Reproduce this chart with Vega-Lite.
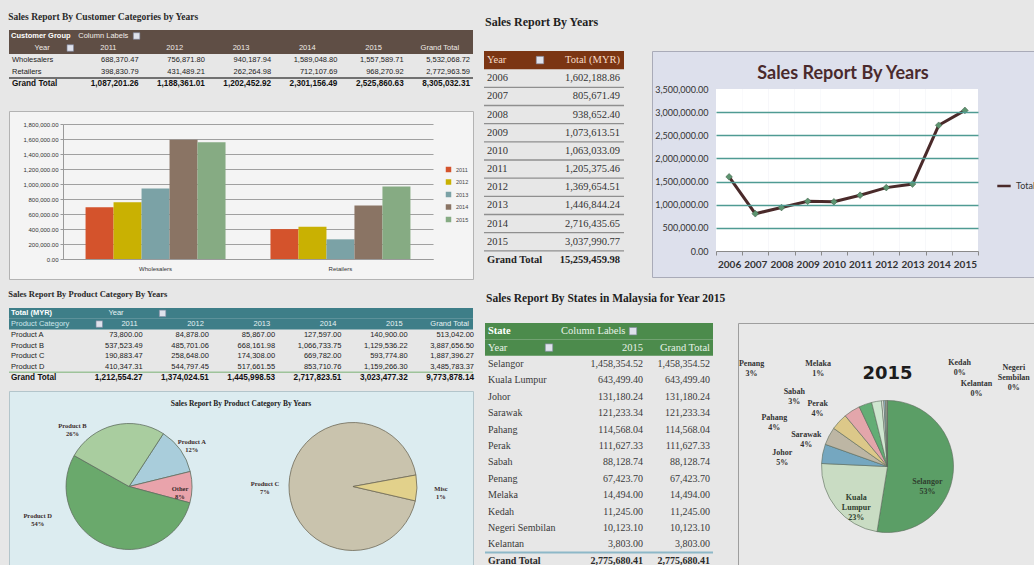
{
"$schema":"https://vega.github.io/schema/vega-lite/v6.json",
"background":"#e7e7e7",
"padding":{"left":8,"top":10,"right":0,"bottom":0},
"spacing":4,
"resolve":{"scale":{"color":"independent","theta":"independent"},"legend":{"color":"independent"}},
"datasets":{
"cust":[
{"row":"Wholesalers","col":"2011","v":688370.47},{"row":"Wholesalers","col":"2012","v":756871.80},{"row":"Wholesalers","col":"2013","v":940187.94},{"row":"Wholesalers","col":"2014","v":1589048.80},{"row":"Wholesalers","col":"2015","v":1557589.71},{"row":"Wholesalers","col":"Grand Total","v":5532068.72},
{"row":"Retailers","col":"2011","v":398830.79},{"row":"Retailers","col":"2012","v":431489.21},{"row":"Retailers","col":"2013","v":262264.98},{"row":"Retailers","col":"2014","v":712107.69},{"row":"Retailers","col":"2015","v":968270.92},{"row":"Retailers","col":"Grand Total","v":2772963.59},
{"row":"Grand Total","col":"2011","v":1087201.26},{"row":"Grand Total","col":"2012","v":1188361.01},{"row":"Grand Total","col":"2013","v":1202452.92},{"row":"Grand Total","col":"2014","v":2301156.49},{"row":"Grand Total","col":"2015","v":2525860.63},{"row":"Grand Total","col":"Grand Total","v":8305032.31}
],
"prod":[
{"row":"Product A","col":"2011","v":73800.00},{"row":"Product A","col":"2012","v":84878.00},{"row":"Product A","col":"2013","v":85867.00},{"row":"Product A","col":"2014","v":127597.00},{"row":"Product A","col":"2015","v":140900.00},{"row":"Product A","col":"Grand Total","v":513042.00},
{"row":"Product B","col":"2011","v":537523.49},{"row":"Product B","col":"2012","v":485701.06},{"row":"Product B","col":"2013","v":668161.98},{"row":"Product B","col":"2014","v":1066733.75},{"row":"Product B","col":"2015","v":1129536.22},{"row":"Product B","col":"Grand Total","v":3887656.50},
{"row":"Product C","col":"2011","v":190883.47},{"row":"Product C","col":"2012","v":258648.00},{"row":"Product C","col":"2013","v":174308.00},{"row":"Product C","col":"2014","v":669782.00},{"row":"Product C","col":"2015","v":593774.80},{"row":"Product C","col":"Grand Total","v":1887396.27},
{"row":"Product D","col":"2011","v":410347.31},{"row":"Product D","col":"2012","v":544797.45},{"row":"Product D","col":"2013","v":517661.55},{"row":"Product D","col":"2014","v":853710.76},{"row":"Product D","col":"2015","v":1159266.30},{"row":"Product D","col":"Grand Total","v":3485783.37},
{"row":"Grand Total","col":"2011","v":1212554.27},{"row":"Grand Total","col":"2012","v":1374024.51},{"row":"Grand Total","col":"2013","v":1445998.53},{"row":"Grand Total","col":"2014","v":2717823.51},{"row":"Grand Total","col":"2015","v":3023477.32},{"row":"Grand Total","col":"Grand Total","v":9773878.14}
],
"years":[
{"year":"2006","total":1602188.86},{"year":"2007","total":805671.49},{"year":"2008","total":938652.40},{"year":"2009","total":1073613.51},{"year":"2010","total":1063033.09},{"year":"2011","total":1205375.46},{"year":"2012","total":1369654.51},{"year":"2013","total":1446844.24},{"year":"2014","total":2716435.65},{"year":"2015","total":3037990.77}
],
"states":[
{"state":"Selangor","v":1458354.52,"lbl":"Selangor\n53%"},
{"state":"Kuala Lumpur","v":643499.40,"lbl":"Kuala\nLumpur\n23%"},
{"state":"Johor","v":131180.24,"lbl":"Johor\n5%"},
{"state":"Sarawak","v":121233.34,"lbl":"Sarawak\n4%"},
{"state":"Pahang","v":114568.04,"lbl":"Pahang\n4%"},
{"state":"Perak","v":111627.33,"lbl":"Perak\n4%"},
{"state":"Sabah","v":88128.74,"lbl":"Sabah\n3%"},
{"state":"Penang","v":67423.70,"lbl":"Penang\n3%"},
{"state":"Melaka","v":14494.00,"lbl":"Melaka\n1%"},
{"state":"Kedah","v":11245.00,"lbl":"Kedah\n0%"},
{"state":"Negeri Sembilan","v":10123.10,"lbl":"Negeri\nSembilan\n0%"},
{"state":"Kelantan","v":3803.00,"lbl":"Kelantan\n0%"}
]
},
"vconcat":[
{"hconcat":[
 {"vconcat":[
  {"title":{"text":"Sales Report By Customer Categories by Years","anchor":"start","fontSize":9.5,"fontWeight":"bold","font":"Liberation Serif","color":"#2a2a2a","offset":-11},
   "width":464,"height":80,
   "encoding":{"y":{"field":"row","type":"nominal","scale":{"type":"band","domain":["head1","head2","Wholesalers","Retailers","Grand Total"],"range":[20,80],"paddingInner":0,"paddingOuter":0},"axis":null}},
   "layer":[
    {"data":{"values":[{"row":"head1"},{"row":"head2"}]},"mark":{"type":"rect","color":"#5f4e45"}},
    {"data":{"values":[{"row":"head1","col":"label","t":"Customer Group"}]},"mark":{"type":"text","align":"left","fontSize":7.5,"fontWeight":"bold","color":"#ffffff","xOffset":2,"limit":60,"ellipsis":""},
     "encoding":{"x":{"field":"col","type":"nominal","bandPosition":0,"scale":{"type":"band","domain":["label","2011","2012","2013","2014","2015","Grand Total"],"paddingInner":0,"paddingOuter":0},"axis":null},"text":{"field":"t"}}},
    {"data":{"values":[{"row":"head1","col":"2011","t":"Column Labels"}]},"mark":{"type":"text","align":"left","fontSize":7.5,"color":"#f0ece8","xOffset":3},
     "encoding":{"x":{"field":"col","type":"nominal","bandPosition":0,"scale":{"type":"band","domain":["label","2011","2012","2013","2014","2015","Grand Total"],"paddingInner":0,"paddingOuter":0},"axis":null},"text":{"field":"t"}}},
    {"data":{"values":[{"row":"head2","col":"label","t":"Year"},{"row":"head2","col":"2011","t":"2011"},{"row":"head2","col":"2012","t":"2012"},{"row":"head2","col":"2013","t":"2013"},{"row":"head2","col":"2014","t":"2014"},{"row":"head2","col":"2015","t":"2015"},{"row":"head2","col":"Grand Total","t":"Grand Total"}]},
     "mark":{"type":"text","fontSize":7.5,"color":"#f0ece8"},
     "encoding":{"x":{"field":"col","type":"nominal","bandPosition":0.5,"scale":{"type":"band","domain":["label","2011","2012","2013","2014","2015","Grand Total"],"paddingInner":0,"paddingOuter":0},"axis":null},"text":{"field":"t"}}},
    {"data":{"values":[{"row":"head1","col":"2011"},{"row":"head2","col":"label"}]},"mark":{"type":"square","size":42,"filled":true,"fill":"#dfe2ec","stroke":"#7f86a0","strokeWidth":0.6,"opacity":1,"xOffset":-5},
     "encoding":{"x":{"field":"col","type":"nominal","bandPosition":1,"scale":{"type":"band","domain":["label","2011","2012","2013","2014","2015","Grand Total"],"paddingInner":0,"paddingOuter":0},"axis":null}}},
    {"data":{"name":"cust"},"transform":[{"filter":"datum.row !== 'Grand Total'"}],"mark":{"type":"text","align":"right","fontSize":7.5,"color":"#222222","xOffset":-3},
     "encoding":{"x":{"field":"col","type":"nominal","bandPosition":1,"scale":{"type":"band","domain":["label","2011","2012","2013","2014","2015","Grand Total"],"paddingInner":0,"paddingOuter":0},"axis":null},"text":{"field":"v","type":"quantitative","format":",.2f"}}},
    {"data":{"name":"cust"},"transform":[{"filter":"datum.row === 'Grand Total'"}],"mark":{"type":"text","align":"right","fontSize":8.2,"fontWeight":"bold","color":"#111111","xOffset":-3},
     "encoding":{"x":{"field":"col","type":"nominal","bandPosition":1,"scale":{"type":"band","domain":["label","2011","2012","2013","2014","2015","Grand Total"],"paddingInner":0,"paddingOuter":0},"axis":null},"text":{"field":"v","type":"quantitative","format":",.2f"}}},
    {"data":{"values":[{"row":"Wholesalers"},{"row":"Retailers"}]},"mark":{"type":"text","align":"left","fontSize":7.5,"color":"#222222","xOffset":3},
     "encoding":{"x":{"datum":"label","type":"nominal","bandPosition":0,"scale":{"type":"band","domain":["label","2011","2012","2013","2014","2015","Grand Total"],"paddingInner":0,"paddingOuter":0},"axis":null},"text":{"field":"row"}}},
    {"data":{"values":[{"row":"Grand Total"}]},"mark":{"type":"text","align":"left","fontSize":8.2,"fontWeight":"bold","color":"#111111","xOffset":3},
     "encoding":{"x":{"datum":"label","type":"nominal","bandPosition":0,"scale":{"type":"band","domain":["label","2011","2012","2013","2014","2015","Grand Total"],"paddingInner":0,"paddingOuter":0},"axis":null},"text":{"field":"row"}}},
    {"data":{"values":[{"row":"Grand Total"}]},"mark":{"type":"rule","color":"#4a4a4a","strokeWidth":1.6},
     "encoding":{"y":{"field":"row","type":"nominal","bandPosition":0,"scale":{"type":"band","domain":["head1","head2","Wholesalers","Retailers","Grand Total"],"range":[20,80],"paddingInner":0,"paddingOuter":0},"axis":null}}}
   ]},
  {"width":464,"height":168,
   "view":{"fill":"#f4f4f4","stroke":"#b3b3b3"},
   "data":{"name":"cust"},
   "transform":[{"filter":"datum.row !== 'Grand Total' && datum.col !== 'Grand Total'"}],
   "mark":{"type":"bar"},
   "encoding":{
    "x":{"field":"row","type":"nominal","sort":["Wholesalers","Retailers"],"scale":{"type":"band","range":[54,424],"paddingInner":0.243,"paddingOuter":0.122},
         "axis":{"title":null,"labelAngle":0,"orient":"bottom","offset":-20,"ticks":false,"domainColor":"#9a9a9a","labelFontSize":6,"labelColor":"#333333","labelPadding":6}},
    "xOffset":{"field":"col","type":"nominal","scale":{"paddingInner":0,"paddingOuter":0}},
    "y":{"field":"v","type":"quantitative","scale":{"domain":[0,1800000],"range":[148,13],"nice":false,"zero":true},
         "axis":{"title":null,"orient":"left","offset":-54,"values":[0,200000,400000,600000,800000,1000000,1200000,1400000,1600000,1800000],"format":",.2f","labelFontSize":6,"labelColor":"#333333","gridColor":"#a0a0a0","domainColor":"#9a9a9a","tickSize":3,"tickColor":"#9a9a9a","labelPadding":2}},
    "color":{"field":"col","type":"nominal","scale":{"domain":["2011","2012","2013","2014","2015"],"range":["#d4532c","#c9b102","#7ba2a6","#8a7464","#86ab83"]},
         "legend":{"orient":"none","legendX":436,"legendY":55,"title":null,"symbolType":"square","symbolSize":30,"labelFontSize":5.5,"labelColor":"#444444","rowPadding":5.5}}
   }}
 ],"spacing":20,"resolve":{"scale":{"color":"independent","theta":"independent"},"legend":{"color":"independent"}}},
 {"vconcat":[
  {"width":2,"height":24,"data":{"values":[{"t":"Sales Report By Years"}]},
   "mark":{"type":"text","align":"left","font":"Liberation Serif","fontSize":12,"fontWeight":"bold","color":"#1f1f1f"},
   "encoding":{"text":{"field":"t"}}},
  {"hconcat":[
   {"width":140,"height":218,
    "encoding":{"y":{"field":"year","type":"nominal","scale":{"type":"band","domain":["head","2006","2007","2008","2009","2010","2011","2012","2013","2014","2015","Grand Total"],"paddingInner":0,"paddingOuter":0},"axis":null}},
    "layer":[
     {"data":{"values":[{"year":"head"}]},"mark":{"type":"rect","color":"#7b3513"}},
     {"data":{"values":[{"year":"head","col":"Year","t":"Year"}]},"mark":{"type":"text","align":"left","font":"Liberation Serif","fontSize":10.5,"color":"#f7dcc8","xOffset":3},
      "encoding":{"x":{"field":"col","type":"nominal","bandPosition":0,"scale":{"type":"band","domain":["Year","Total (MYR)"],"paddingInner":0,"paddingOuter":0},"axis":null},"text":{"field":"t"}}},
     {"data":{"values":[{"year":"head","col":"Total (MYR)","t":"Total (MYR)"}]},"mark":{"type":"text","align":"right","font":"Liberation Serif","fontSize":10.5,"color":"#f7dcc8","xOffset":-4},
      "encoding":{"x":{"field":"col","type":"nominal","bandPosition":1,"scale":{"type":"band","domain":["Year","Total (MYR)"],"paddingInner":0,"paddingOuter":0},"axis":null},"text":{"field":"t"}}},
     {"data":{"values":[{"year":"head","col":"Year"}]},"mark":{"type":"square","size":55,"filled":true,"fill":"#dfe2ec","stroke":"#7f86a0","strokeWidth":0.6,"opacity":1,"xOffset":-14},
      "encoding":{"x":{"field":"col","type":"nominal","bandPosition":1,"scale":{"type":"band","domain":["Year","Total (MYR)"],"paddingInner":0,"paddingOuter":0},"axis":null}}},
     {"data":{"name":"years"},"mark":{"type":"rule","color":"#8f8f8f","strokeWidth":1.3},
      "encoding":{"y":{"field":"year","type":"nominal","bandPosition":1,"scale":{"type":"band","domain":["head","2006","2007","2008","2009","2010","2011","2012","2013","2014","2015","Grand Total"],"paddingInner":0,"paddingOuter":0},"axis":null}}},
     {"data":{"name":"years"},"mark":{"type":"text","align":"left","font":"Liberation Serif","fontSize":10.5,"color":"#333333","xOffset":3},
      "encoding":{"x":{"datum":"Year","type":"nominal","bandPosition":0,"scale":{"type":"band","domain":["Year","Total (MYR)"],"paddingInner":0,"paddingOuter":0},"axis":null},"text":{"field":"year"}}},
     {"data":{"name":"years"},"mark":{"type":"text","align":"right","font":"Liberation Serif","fontSize":10.5,"color":"#333333","xOffset":-4},
      "encoding":{"x":{"datum":"Total (MYR)","type":"nominal","bandPosition":1,"scale":{"type":"band","domain":["Year","Total (MYR)"],"paddingInner":0,"paddingOuter":0},"axis":null},"text":{"field":"total","type":"quantitative","format":",.2f"}}},
     {"data":{"values":[{"year":"Grand Total","total":15259459.98}]},"mark":{"type":"text","align":"left","font":"Liberation Serif","fontSize":10.5,"fontWeight":"bold","color":"#222222","xOffset":3},
      "encoding":{"x":{"datum":"Year","type":"nominal","bandPosition":0,"scale":{"type":"band","domain":["Year","Total (MYR)"],"paddingInner":0,"paddingOuter":0},"axis":null},"text":{"field":"year"}}},
     {"data":{"values":[{"year":"Grand Total","total":15259459.98}]},"mark":{"type":"text","align":"right","font":"Liberation Serif","fontSize":10.5,"fontWeight":"bold","color":"#222222","xOffset":-4},
      "encoding":{"x":{"datum":"Total (MYR)","type":"nominal","bandPosition":1,"scale":{"type":"band","domain":["Year","Total (MYR)"],"paddingInner":0,"paddingOuter":0},"axis":null},"text":{"field":"total","type":"quantitative","format":",.2f"}}}
    ]},
   {"width":382,"height":226,
    "view":{"fill":"#dde0ec","stroke":"#a9abb8"},
    "title":{"text":"Sales Report By Years","offset":-32,"fontSize":18,"font":"Lato","fontWeight":"bold","color":"#4a2a2c"},
    "data":{"name":"years"},
    "encoding":{"x":{"field":"year","type":"ordinal","scale":{"type":"band","range":[64,326],"paddingInner":0,"paddingOuter":0},
      "axis":{"title":null,"labelAngle":0,"offset":-26,"tickBand":"extent","labelFont":"Lato","labelFontSize":10,"labelFontWeight":"bold","labelColor":"#333333","domainColor":"#8a8a8a","tickColor":"#8a8a8a","tickSize":4,"labelPadding":4}}},
    "layer":[
     {"mark":{"type":"rect","color":"#ffffff"},
      "encoding":{"y":{"datum":0,"type":"quantitative","scale":{"domain":[0,3500000],"range":[200,38],"nice":false},
        "axis":{"title":null,"orient":"left","offset":-64,"zindex":1,"values":[0,500000,1000000,1500000,2000000,2500000,3000000,3500000],"format":",.2f","labelFont":"Lato","labelFontSize":9,"labelColor":"#333333","labelPadding":8,"domain":false,"ticks":false,"grid":true,"gridWidth":1.5,"gridColor":{"condition":{"test":"datum.value === 0 || datum.value === 3500000","value":"transparent"},"value":"#4f9b93"}}},
       "y2":{"datum":3500000}}},
     {"mark":{"type":"line","strokeWidth":3},
      "encoding":{"y":{"field":"total","type":"quantitative","scale":{"domain":[0,3500000],"range":[200,38],"nice":false},
        "axis":{"title":null,"orient":"left","offset":-64,"zindex":1,"values":[0,500000,1000000,1500000,2000000,2500000,3000000,3500000],"format":",.2f","labelFont":"Lato","labelFontSize":9,"labelColor":"#333333","labelPadding":8,"domain":false,"ticks":false,"grid":true,"gridWidth":1.5,"gridColor":{"condition":{"test":"datum.value === 0 || datum.value === 3500000","value":"transparent"},"value":"#4f9b93"}}},
       "color":{"datum":"Total","scale":{"domain":["Total"],"range":["#4a2a2a"]},"legend":{"orient":"none","legendX":344,"legendY":127,"title":null,"symbolType":"stroke","symbolStrokeWidth":2.5,"symbolSize":180,"labelFont":"Lato","labelFontSize":9,"labelColor":"#333333"}}}},
     {"mark":{"type":"point","shape":"diamond","filled":true,"size":45,"fill":"#5d9470","stroke":"#3d5a45","strokeWidth":0.5,"opacity":1},
      "encoding":{"y":{"field":"total","type":"quantitative","scale":{"domain":[0,3500000],"range":[200,38],"nice":false},
        "axis":{"title":null,"orient":"left","offset":-64,"zindex":1,"values":[0,500000,1000000,1500000,2000000,2500000,3000000,3500000],"format":",.2f","labelFont":"Lato","labelFontSize":9,"labelColor":"#333333","labelPadding":8,"domain":false,"ticks":false,"grid":true,"gridWidth":1.5,"gridColor":{"condition":{"test":"datum.value === 0 || datum.value === 3500000","value":"transparent"},"value":"#4f9b93"}}}}}
    ]}
  ],"spacing":26,"resolve":{"scale":{"color":"independent","theta":"independent"},"legend":{"color":"independent"}}}
 ],"spacing":16,"resolve":{"scale":{"color":"independent","theta":"independent"},"legend":{"color":"independent"}}}
],"spacing":9,"resolve":{"scale":{"color":"independent","theta":"independent"},"legend":{"color":"independent"}}},
{"hconcat":[
 {"vconcat":[
  {"title":{"text":"Sales Report By Product Category By Years","anchor":"start","fontSize":8.5,"fontWeight":"bold","font":"Liberation Serif","color":"#2a2a2a","offset":-14},
   "width":464,"height":99,
   "encoding":{"y":{"field":"row","type":"nominal","scale":{"type":"band","domain":["head1","head2","Product A","Product B","Product C","Product D","Grand Total"],"range":[24,99],"paddingInner":0,"paddingOuter":0},"axis":null}},
   "layer":[
    {"data":{"values":[{"row":"head1"},{"row":"head2"}]},"mark":{"type":"rect","color":"#3e7e88"}},
    {"data":{"values":[{"row":"head1","col":"label","t":"Total (MYR)"}]},"mark":{"type":"text","align":"left","fontSize":7.5,"fontWeight":"bold","color":"#ffffff","xOffset":2},
     "encoding":{"x":{"field":"col","type":"nominal","bandPosition":0,"scale":{"type":"band","domain":["label","2011","2012","2013","2014","2015","Grand Total"],"paddingInner":0,"paddingOuter":0},"axis":null},"text":{"field":"t"}}},
    {"data":{"values":[{"row":"head1","col":"2011","t":"Year"}]},"mark":{"type":"text","align":"left","fontSize":7.5,"color":"#e6f2f3"},
     "encoding":{"x":{"field":"col","type":"nominal","bandPosition":0.5,"scale":{"type":"band","domain":["label","2011","2012","2013","2014","2015","Grand Total"],"paddingInner":0,"paddingOuter":0},"axis":null},"text":{"field":"t"}}},
    {"data":{"values":[{"row":"head2","col":"label","t":"Product Category"}]},"mark":{"type":"text","align":"left","fontSize":7.5,"color":"#cde6ea","xOffset":2},
     "encoding":{"x":{"field":"col","type":"nominal","bandPosition":0,"scale":{"type":"band","domain":["label","2011","2012","2013","2014","2015","Grand Total"],"paddingInner":0,"paddingOuter":0},"axis":null},"text":{"field":"t"}}},
    {"data":{"values":[{"row":"head2","col":"2011","t":"2011"},{"row":"head2","col":"2012","t":"2012"},{"row":"head2","col":"2013","t":"2013"},{"row":"head2","col":"2014","t":"2014"},{"row":"head2","col":"2015","t":"2015"},{"row":"head2","col":"Grand Total","t":"Grand Total"}]},
     "mark":{"type":"text","align":"right","fontSize":7.5,"color":"#e6f2f3","xOffset":-4},
     "encoding":{"x":{"field":"col","type":"nominal","bandPosition":1,"scale":{"type":"band","domain":["label","2011","2012","2013","2014","2015","Grand Total"],"paddingInner":0,"paddingOuter":0},"axis":null},"text":{"field":"t"}}},
    {"data":{"values":[{"row":"head1","col":"2012"}]},"mark":{"type":"square","size":42,"filled":true,"fill":"#dfe2ec","stroke":"#7f86a0","strokeWidth":0.6,"opacity":1,"xOffset":21},
     "encoding":{"x":{"field":"col","type":"nominal","bandPosition":0,"scale":{"type":"band","domain":["label","2011","2012","2013","2014","2015","Grand Total"],"paddingInner":0,"paddingOuter":0},"axis":null}}},
    {"data":{"values":[{"row":"head2","col":"label"}]},"mark":{"type":"square","size":42,"filled":true,"fill":"#dfe2ec","stroke":"#7f86a0","strokeWidth":0.6,"opacity":1,"xOffset":24},
     "encoding":{"x":{"field":"col","type":"nominal","bandPosition":1,"scale":{"type":"band","domain":["label","2011","2012","2013","2014","2015","Grand Total"],"paddingInner":0,"paddingOuter":0},"axis":null}}},
    {"data":{"name":"prod"},"transform":[{"filter":"datum.row !== 'Grand Total'"}],"mark":{"type":"text","align":"right","fontSize":7.5,"color":"#222222","xOffset":1},
     "encoding":{"x":{"field":"col","type":"nominal","bandPosition":1,"scale":{"type":"band","domain":["label","2011","2012","2013","2014","2015","Grand Total"],"paddingInner":0,"paddingOuter":0},"axis":null},"text":{"field":"v","type":"quantitative","format":",.2f"}}},
    {"data":{"name":"prod"},"transform":[{"filter":"datum.row === 'Grand Total'"}],"mark":{"type":"text","align":"right","fontSize":8.2,"fontWeight":"bold","color":"#111111","xOffset":1},
     "encoding":{"x":{"field":"col","type":"nominal","bandPosition":1,"scale":{"type":"band","domain":["label","2011","2012","2013","2014","2015","Grand Total"],"paddingInner":0,"paddingOuter":0},"axis":null},"text":{"field":"v","type":"quantitative","format":",.2f"}}},
    {"data":{"values":[{"row":"Product A"},{"row":"Product B"},{"row":"Product C"},{"row":"Product D"}]},"mark":{"type":"text","align":"left","fontSize":7.5,"color":"#222222","xOffset":2},
     "encoding":{"x":{"datum":"label","type":"nominal","bandPosition":0,"scale":{"type":"band","domain":["label","2011","2012","2013","2014","2015","Grand Total"],"paddingInner":0,"paddingOuter":0},"axis":null},"text":{"field":"row"}}},
    {"data":{"values":[{"row":"Grand Total"}]},"mark":{"type":"text","align":"left","fontSize":8.2,"fontWeight":"bold","color":"#111111","xOffset":2},
     "encoding":{"x":{"datum":"label","type":"nominal","bandPosition":0,"scale":{"type":"band","domain":["label","2011","2012","2013","2014","2015","Grand Total"],"paddingInner":0,"paddingOuter":0},"axis":null},"text":{"field":"row"}}},
    {"data":{"values":[{"row":"Grand Total"}]},"mark":{"type":"rule","color":"#9ec39a","strokeWidth":1.5},
     "encoding":{"y":{"field":"row","type":"nominal","bandPosition":0,"scale":{"type":"band","domain":["head1","head2","Product A","Product B","Product C","Product D","Grand Total"],"range":[24,99],"paddingInner":0,"paddingOuter":0},"axis":null}}}
   ]},
  {"width":464,"height":175,
   "view":{"fill":"#dcecf0","stroke":"#b3c5cb"},
   "title":{"text":"Sales Report By Product Category By Years","offset":-16,"fontSize":7.5,"font":"Liberation Serif","fontWeight":"bold","color":"#222222"},
   "resolve":{"scale":{"theta":"independent"}},
   "layer":[
    {"data":{"values":[
      {"cat":"Product A","share":12,"lbl":"Product A\n12%"},
      {"cat":"Other","share":8,"lbl":"Other\n8%"},
      {"cat":"Product D","share":54,"lbl":"Product D\n54%"},
      {"cat":"Product B","share":26,"lbl":"Product B\n26%"}]},
     "encoding":{
      "x":{"datum":"main","type":"nominal","scale":{"type":"point","domain":["main","detail"],"padding":0.536},"axis":null},
      "theta":{"field":"share","type":"quantitative","stack":true,"scale":{"range":[1.833,8.116]}},
      "order":{"field":"share","type":"quantitative","sort":"descending"},
      "color":{"field":"cat","type":"nominal","scale":{"domain":["Product A","Product B","Product D","Other","Product C","Misc"],"range":["#a9cddb","#a9cd9f","#6aa96c","#e9a3ab","#c9c3ad","#e2d18b"]},"legend":null}},
     "layer":[
      {"mark":{"type":"arc","outerRadius":63,"stroke":"#5f6f5f","strokeWidth":0.8,"yOffset":8}},
      {"mark":{"type":"text","clip":true,"radius":83,"thetaOffset":-0.51,"yOffset":8,"lineBreak":"\n","font":"Liberation Serif","fontSize":6.5,"lineHeight":8,"fontWeight":"bold"},
       "encoding":{"color":{"value":"#3b2b2b"},"text":{"condition":{"test":"datum.cat === 'Product B'","field":"lbl"},"value":""}}},
      {"mark":{"type":"text","clip":true,"radius":77,"yOffset":8,"lineBreak":"\n","font":"Liberation Serif","fontSize":6.5,"lineHeight":8,"fontWeight":"bold"},
       "encoding":{"color":{"value":"#3b2b2b"},"text":{"condition":{"test":"datum.cat === 'Product A'","field":"lbl"},"value":""}}},
      {"mark":{"type":"text","clip":true,"radius":51,"thetaOffset":0.03,"yOffset":8,"lineBreak":"\n","font":"Liberation Serif","fontSize":6.5,"lineHeight":8,"fontWeight":"bold"},
       "encoding":{"color":{"value":"#3b2b2b"},"text":{"condition":{"test":"datum.cat === 'Other'","field":"lbl"},"value":""}}},
      {"mark":{"type":"text","clip":true,"radius":96,"thetaOffset":0.87,"yOffset":8,"lineBreak":"\n","font":"Liberation Serif","fontSize":6.5,"lineHeight":8,"fontWeight":"bold"},
       "encoding":{"color":{"value":"#3b2b2b"},"text":{"condition":{"test":"datum.cat === 'Product D'","field":"lbl"},"value":""}}}
     ]},
    {"data":{"values":[
      {"cat":"Product C","share":7.2,"lbl":"Product C\n7%"},
      {"cat":"Misc","share":0.5,"lbl":"Misc\n1%"}]},
     "encoding":{
      "x":{"datum":"detail","type":"nominal","scale":{"type":"point","domain":["main","detail"],"padding":0.536},"axis":null},
      "theta":{"field":"share","type":"quantitative","stack":true,"scale":{"range":[1.798,8.081]}},
      "order":{"field":"share","type":"quantitative","sort":"descending"},
      "color":{"field":"cat","type":"nominal","scale":{"domain":["Product A","Product B","Product D","Other","Product C","Misc"],"range":["#a9cddb","#a9cd9f","#6aa96c","#e9a3ab","#c9c3ad","#e2d18b"]},"legend":null}},
     "layer":[
      {"mark":{"type":"arc","outerRadius":64,"stroke":"#6f6a58","strokeWidth":0.8,"yOffset":8}},
      {"mark":{"type":"text","clip":true,"radius":88,"yOffset":8,"lineBreak":"\n","font":"Liberation Serif","fontSize":6.5,"lineHeight":8,"fontWeight":"bold"},
       "encoding":{"color":{"value":"#3b2b2b"},"text":{"field":"lbl"}}}
     ]}
   ]}
 ],"spacing":7,"resolve":{"scale":{"color":"independent","theta":"independent"},"legend":{"color":"independent"}}},
 {"vconcat":[
  {"width":2,"height":30,"data":{"values":[{"t":"Sales Report By States in Malaysia for Year 2015"}]},
   "mark":{"type":"text","align":"left","font":"Liberation Serif","fontSize":11.5,"fontWeight":"bold","color":"#1f1f1f"},
   "encoding":{"text":{"field":"t"}}},
  {"hconcat":[
   {"width":228,"height":246,
    "encoding":{"y":{"field":"state","type":"nominal","scale":{"type":"band","domain":["head1","head2","Selangor","Kuala Lumpur","Johor","Sarawak","Pahang","Perak","Sabah","Penang","Melaka","Kedah","Negeri Sembilan","Kelantan","Grand Total"],"paddingInner":0,"paddingOuter":0},"axis":null}},
    "layer":[
     {"data":{"values":[{"state":"head1"},{"state":"head2"}]},"mark":{"type":"rect","color":"#4c8b4c"}},
     {"data":{"values":[{"state":"head1","col":"label","t":"State"}]},"mark":{"type":"text","align":"left","font":"Liberation Serif","fontSize":10.5,"fontWeight":"bold","color":"#ffffff","xOffset":3},
      "encoding":{"x":{"field":"col","type":"nominal","bandPosition":0,"scale":{"type":"band","domain":["label","2015","Grand Total"],"paddingInner":0,"paddingOuter":0},"axis":null},"text":{"field":"t"}}},
     {"data":{"values":[{"state":"head1","col":"2015","t":"Column Labels"}]},"mark":{"type":"text","align":"left","font":"Liberation Serif","fontSize":10.5,"color":"#e8f2e8","xOffset":0},
      "encoding":{"x":{"field":"col","type":"nominal","bandPosition":0,"scale":{"type":"band","domain":["label","2015","Grand Total"],"paddingInner":0,"paddingOuter":0},"axis":null},"text":{"field":"t"}}},
     {"data":{"values":[{"state":"head2","col":"label","t":"Year"}]},"mark":{"type":"text","align":"left","font":"Liberation Serif","fontSize":10.5,"color":"#e8f2e8","xOffset":3},
      "encoding":{"x":{"field":"col","type":"nominal","bandPosition":0,"scale":{"type":"band","domain":["label","2015","Grand Total"],"paddingInner":0,"paddingOuter":0},"axis":null},"text":{"field":"t"}}},
     {"data":{"values":[{"state":"head2","col":"2015","t":"2015"}]},"mark":{"type":"text","align":"right","font":"Liberation Serif","fontSize":10.5,"color":"#e8f2e8","xOffset":6},
      "encoding":{"x":{"field":"col","type":"nominal","bandPosition":1,"scale":{"type":"band","domain":["label","2015","Grand Total"],"paddingInner":0,"paddingOuter":0},"axis":null},"text":{"field":"t"}}},
     {"data":{"values":[{"state":"head2","col":"Grand Total","t":"Grand Total"}]},"mark":{"type":"text","align":"right","font":"Liberation Serif","fontSize":10.5,"color":"#e8f2e8","xOffset":-3},
      "encoding":{"x":{"field":"col","type":"nominal","bandPosition":1,"scale":{"type":"band","domain":["label","2015","Grand Total"],"paddingInner":0,"paddingOuter":0},"axis":null},"text":{"field":"t"}}},
     {"data":{"values":[{"state":"head1","col":"2015"}]},"mark":{"type":"square","size":55,"filled":true,"fill":"#dfe2ec","stroke":"#7f86a0","strokeWidth":0.6,"opacity":1,"xOffset":-4},
      "encoding":{"x":{"field":"col","type":"nominal","bandPosition":1,"scale":{"type":"band","domain":["label","2015","Grand Total"],"paddingInner":0,"paddingOuter":0},"axis":null}}},
     {"data":{"values":[{"state":"head2","col":"label"}]},"mark":{"type":"square","size":55,"filled":true,"fill":"#dfe2ec","stroke":"#7f86a0","strokeWidth":0.6,"opacity":1,"xOffset":-12},
      "encoding":{"x":{"field":"col","type":"nominal","bandPosition":1,"scale":{"type":"band","domain":["label","2015","Grand Total"],"paddingInner":0,"paddingOuter":0},"axis":null}}},
     {"data":{"name":"states"},"mark":{"type":"text","align":"left","font":"Liberation Serif","fontSize":10,"color":"#3a3a3a","xOffset":3},
      "encoding":{"x":{"datum":"label","type":"nominal","bandPosition":0,"scale":{"type":"band","domain":["label","2015","Grand Total"],"paddingInner":0,"paddingOuter":0},"axis":null},"text":{"field":"state"}}},
     {"data":{"name":"states"},"mark":{"type":"text","align":"right","font":"Liberation Serif","fontSize":10,"color":"#3a3a3a","xOffset":6},
      "encoding":{"x":{"datum":"2015","type":"nominal","bandPosition":1,"scale":{"type":"band","domain":["label","2015","Grand Total"],"paddingInner":0,"paddingOuter":0},"axis":null},"text":{"field":"v","type":"quantitative","format":",.2f"}}},
     {"data":{"name":"states"},"mark":{"type":"text","align":"right","font":"Liberation Serif","fontSize":10,"color":"#3a3a3a","xOffset":-3},
      "encoding":{"x":{"datum":"Grand Total","type":"nominal","bandPosition":1,"scale":{"type":"band","domain":["label","2015","Grand Total"],"paddingInner":0,"paddingOuter":0},"axis":null},"text":{"field":"v","type":"quantitative","format":",.2f"}}},
     {"data":{"values":[{"state":"Grand Total"}]},"mark":{"type":"rule","color":"#8db8c8","strokeWidth":2},
      "encoding":{"y":{"field":"state","type":"nominal","bandPosition":0,"scale":{"type":"band","domain":["head1","head2","Selangor","Kuala Lumpur","Johor","Sarawak","Pahang","Perak","Sabah","Penang","Melaka","Kedah","Negeri Sembilan","Kelantan","Grand Total"],"paddingInner":0,"paddingOuter":0},"axis":null}}},
     {"data":{"values":[{"state":"Grand Total","v":2775680.41}]},"mark":{"type":"text","align":"left","font":"Liberation Serif","fontSize":10,"fontWeight":"bold","color":"#2a2a2a","xOffset":3},
      "encoding":{"x":{"datum":"label","type":"nominal","bandPosition":0,"scale":{"type":"band","domain":["label","2015","Grand Total"],"paddingInner":0,"paddingOuter":0},"axis":null},"text":{"field":"state"}}},
     {"data":{"values":[{"state":"Grand Total","v":2775680.41}]},"mark":{"type":"text","align":"right","font":"Liberation Serif","fontSize":10,"fontWeight":"bold","color":"#2a2a2a","xOffset":6},
      "encoding":{"x":{"datum":"2015","type":"nominal","bandPosition":1,"scale":{"type":"band","domain":["label","2015","Grand Total"],"paddingInner":0,"paddingOuter":0},"axis":null},"text":{"field":"v","type":"quantitative","format":",.2f"}}},
     {"data":{"values":[{"state":"Grand Total","v":2775680.41}]},"mark":{"type":"text","align":"right","font":"Liberation Serif","fontSize":10,"fontWeight":"bold","color":"#2a2a2a","xOffset":-3},
      "encoding":{"x":{"datum":"Grand Total","type":"nominal","bandPosition":1,"scale":{"type":"band","domain":["label","2015","Grand Total"],"paddingInner":0,"paddingOuter":0},"axis":null},"text":{"field":"v","type":"quantitative","format":",.2f"}}}
    ]},
   {"width":299,"height":243,
    "view":{"fill":"#e8e8e8","stroke":"#9e9e9e"},
    "title":{"text":"2015","offset":-60,"fontSize":18,"font":"DejaVu Sans","fontWeight":"bold","color":"#1c1c1c"},
    "data":{"name":"states"},
    "encoding":{
     "theta":{"field":"v","type":"quantitative","stack":true},
     "order":{"field":"v","type":"quantitative","sort":"descending"}},
    "layer":[
     {"mark":{"type":"arc","outerRadius":66,"stroke":"#5a6a5a","strokeWidth":0.6,"yOffset":22},
      "encoding":{"color":{"field":"state","type":"nominal","scale":{"domain":["Selangor","Kuala Lumpur","Johor","Sarawak","Pahang","Perak","Sabah","Penang","Melaka","Kedah","Negeri Sembilan","Kelantan"],"range":["#5b9e66","#c9dcc3","#75a7c0","#bdb6a4","#dcc889","#e3a6ab","#63ad75","#cfe6d0","#e9efe9","#9bbdd0","#c9c4b6","#a9a9a9"]},"legend":null}}},
     {"mark":{"type":"text","clip":true,"radius":43,"thetaOffset":0.30,"yOffset":22,"lineBreak":"\n","font":"Liberation Serif","fontWeight":"bold","fontSize":8,"lineHeight":10,"color":"#2f3f2f"},
      "encoding":{"text":{"condition":{"test":"datum.state === 'Selangor'","field":"lbl"},"value":""}}},
     {"mark":{"type":"text","clip":true,"radius":44,"thetaOffset":-0.10,"yOffset":22,"lineBreak":"\n","font":"Liberation Serif","fontWeight":"bold","fontSize":8,"lineHeight":10,"color":"#2f3f2f"},
      "encoding":{"text":{"condition":{"test":"datum.state === 'Kuala Lumpur'","field":"lbl"},"value":""}}},
     {"mark":{"type":"text","clip":true,"radius":106,"thetaOffset":-0.07,"yOffset":22,"lineBreak":"\n","font":"Liberation Serif","fontWeight":"bold","fontSize":8,"lineHeight":10,"color":"#333333"},
      "encoding":{"text":{"condition":{"test":"datum.state === 'Johor'","field":"lbl"},"value":""}}},
     {"mark":{"type":"text","clip":true,"radius":87,"thetaOffset":-0.113,"yOffset":22,"lineBreak":"\n","font":"Liberation Serif","fontWeight":"bold","fontSize":8,"lineHeight":10,"color":"#333333"},
      "encoding":{"text":{"condition":{"test":"datum.state === 'Sarawak'","field":"lbl"},"value":""}}},
     {"mark":{"type":"text","clip":true,"radius":123,"thetaOffset":-0.345,"yOffset":22,"lineBreak":"\n","font":"Liberation Serif","fontWeight":"bold","fontSize":8,"lineHeight":10,"color":"#333333"},
      "encoding":{"text":{"condition":{"test":"datum.state === 'Pahang'","field":"lbl"},"value":""}}},
     {"mark":{"type":"text","clip":true,"radius":94,"thetaOffset":-0.27,"yOffset":22,"lineBreak":"\n","font":"Liberation Serif","fontWeight":"bold","fontSize":8,"lineHeight":10,"color":"#333333"},
      "encoding":{"text":{"condition":{"test":"datum.state === 'Perak'","field":"lbl"},"value":""}}},
     {"mark":{"type":"text","clip":true,"radius":119,"thetaOffset":-0.557,"yOffset":22,"lineBreak":"\n","font":"Liberation Serif","fontWeight":"bold","fontSize":8,"lineHeight":10,"color":"#333333"},
      "encoding":{"text":{"condition":{"test":"datum.state === 'Sabah'","field":"lbl"},"value":""}}},
     {"mark":{"type":"text","clip":true,"radius":170,"thetaOffset":-0.76,"yOffset":22,"lineBreak":"\n","font":"Liberation Serif","fontWeight":"bold","fontSize":8,"lineHeight":10,"color":"#333333"},
      "encoding":{"text":{"condition":{"test":"datum.state === 'Penang'","field":"lbl"},"value":""}}},
     {"mark":{"type":"text","clip":true,"radius":124,"thetaOffset":-0.52,"yOffset":22,"lineBreak":"\n","font":"Liberation Serif","fontWeight":"bold","fontSize":8,"lineHeight":10,"color":"#333333"},
      "encoding":{"text":{"condition":{"test":"datum.state === 'Melaka'","field":"lbl"},"value":""}}},
     {"mark":{"type":"text","clip":true,"radius":126,"thetaOffset":0.654,"yOffset":22,"lineBreak":"\n","font":"Liberation Serif","fontWeight":"bold","fontSize":8,"lineHeight":10,"color":"#333333"},
      "encoding":{"text":{"condition":{"test":"datum.state === 'Kedah'","field":"lbl"},"value":""}}},
     {"mark":{"type":"text","clip":true,"radius":160,"thetaOffset":0.93,"yOffset":22,"lineBreak":"\n","font":"Liberation Serif","fontWeight":"bold","fontSize":8,"lineHeight":10,"color":"#333333"},
      "encoding":{"text":{"condition":{"test":"datum.state === 'Negeri Sembilan'","field":"lbl"},"value":""}}},
     {"mark":{"type":"text","clip":true,"radius":121,"thetaOffset":0.83,"yOffset":22,"lineBreak":"\n","font":"Liberation Serif","fontWeight":"bold","fontSize":8,"lineHeight":10,"color":"#333333"},
      "encoding":{"text":{"condition":{"test":"datum.state === 'Kelantan'","field":"lbl"},"value":""}}}
    ]}
  ],"spacing":23,"resolve":{"scale":{"color":"independent","theta":"independent"},"legend":{"color":"independent"}}}
 ],"spacing":8,"resolve":{"scale":{"color":"independent","theta":"independent"},"legend":{"color":"independent"}}}
],"spacing":9,"resolve":{"scale":{"color":"independent","theta":"independent"},"legend":{"color":"independent"}}}
],
"config":{"view":{"stroke":null},"font":"Liberation Sans"}
}
